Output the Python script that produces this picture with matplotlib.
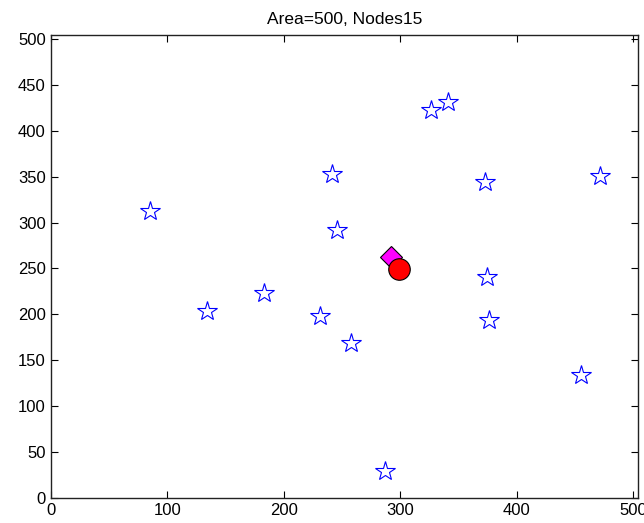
import matplotlib
matplotlib.use('Agg')
import matplotlib.pyplot as plt

# sensor nodes (stars)
node_x = [85, 134, 183, 231, 241, 246, 258, 287, 326, 341, 373, 374, 376, 455, 471]
node_y = [312, 204, 223, 198, 353, 292, 169, 30, 422, 431, 344, 241, 194, 134, 351]

# estimated position (diamond) and true target (circle)
est_x, est_y = [292], [262]
target_x, target_y = [299], [249]

area = 500
n_nodes = 15

plt.rcParams['font.family'] = ['Liberation Sans', 'DejaVu Sans']

fig = plt.figure(figsize=(6.44, 5.23), dpi=100)
ax = fig.add_axes([0.0787, 0.0472, 0.912, 0.8859])

ax.plot(node_x, node_y, linestyle='none', marker='*', markersize=15,
        markerfacecolor='none', markeredgecolor='blue', markeredgewidth=0.8)
ax.plot(est_x, est_y, linestyle='none', marker='D', markersize=11,
        markerfacecolor='magenta', markeredgecolor='black', markeredgewidth=0.8)
ax.plot(target_x, target_y, linestyle='none', marker='o', markersize=15.5,
        markerfacecolor='red', markeredgecolor='black', markeredgewidth=0.8)

ax.set_xlim(0, 504)
ax.set_ylim(0, 504)
ax.set_xticks(range(0, 501, 100))
ax.set_yticks(range(0, 501, 50))
ax.tick_params(direction='in', top=True, right=True, length=5, width=0.8,
               labelsize=12, colors='black')
for s in ax.spines.values():
    s.set_linewidth(1.0)
    s.set_color('#222222')

ax.set_title('Area=%d, Nodes%d' % (area, n_nodes), fontsize=12.5, pad=8)

fig.savefig('out.png', dpi=100)
